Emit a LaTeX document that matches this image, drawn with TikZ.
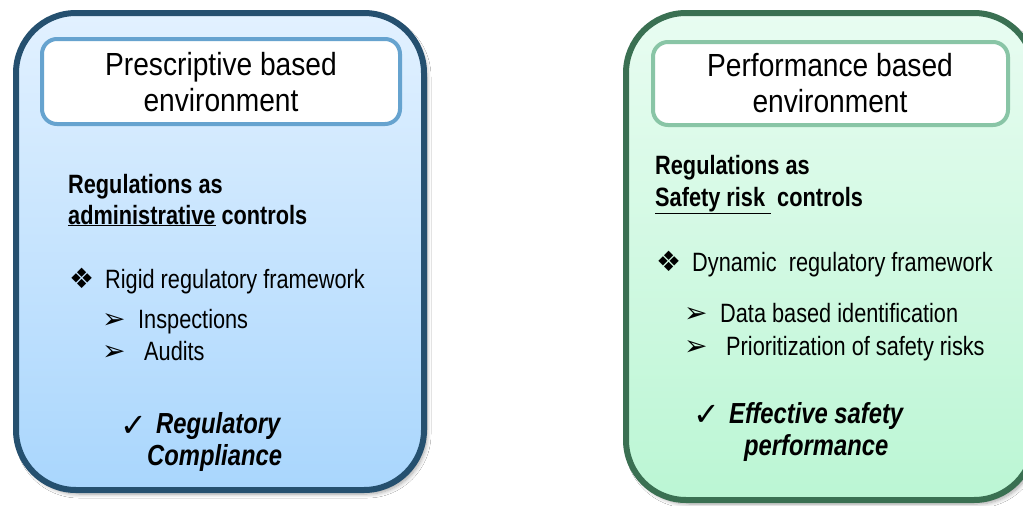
\documentclass[tikz,border=0pt]{standalone}
\usepackage{fontspec}
\setmainfont{Liberation Sans}
\newfontfamily\bodyfont[FakeStretch=0.82]{Liberation Sans}
\newfontfamily\headfont[FakeStretch=0.88]{Liberation Sans}
\newfontfamily\symfont{DejaVu Sans}
\usetikzlibrary{shadows.blur}
\definecolor{lborder}{HTML}{25506F}
\definecolor{ltop}{HTML}{E2F1FF}
\definecolor{lbot}{HTML}{A9D6FD}
\definecolor{linner}{HTML}{66A3CF}
\definecolor{rborder}{HTML}{3A7052}
\definecolor{rtop}{HTML}{E8FCF1}
\definecolor{rbot}{HTML}{BBF6D4}
\definecolor{rinner}{HTML}{89C5A6}
\tikzset{
  panel/.style={rounded corners=60, line width=6, inner sep=0,
    blur shadow={shadow xshift=3pt, shadow yshift=-4pt, shadow blur steps=8, shadow blur radius=4pt, shadow opacity=35}},
  titlebox/.style={rounded corners=15, line width=4, fill=white, inner sep=0},
  headtxt/.style={inner sep=0, anchor=base, font=\headfont\fontsize{32}{36}\selectfont},
  bodytxt/.style={inner sep=0, anchor=base west, font=\bodyfont\fontsize{26.5}{31}\selectfont},
  boldtxt/.style={bodytxt, font=\bodyfont\bfseries\fontsize{26.5}{31}\selectfont},
  bigtxt/.style={inner sep=0, anchor=base west, font=\bodyfont\bfseries\itshape\fontsize{29}{34}\selectfont},
  diam/.style={inner sep=0, anchor=base west, font=\symfont\fontsize{28}{30}\selectfont},
  arr/.style={inner sep=0, anchor=base west, font=\symfont\fontsize{28}{30}\selectfont},
  chk/.style={inner sep=0, anchor=base west, font=\symfont\fontsize{32}{34}\selectfont},
}
\begin{document}
\begin{tikzpicture}[x=1pt, y=-1pt]
\clip (0,0) rectangle (1023,506);
\fill[white] (0,0) rectangle (1023,506);
% left panel
\node[panel, draw=lborder, top color=ltop, bottom color=lbot, minimum width=408, minimum height=477] (lpanel) at (220,251.5) {};
\node[titlebox, draw=linner, minimum width=358, minimum height=85] (lhead) at (221,81.5) {};
\node[headtxt] (lh1) at (221,75) {Prescriptive based};
\node[headtxt] (lh2) at (221,111) {environment};
\node[boldtxt] (lr1) at (68,193) {Regulations as};
\node[boldtxt] (lr2) at (68,224) {\underline{administrative} controls};
\node[diam] (lb1) at (69,288) {❖};
\node[bodytxt] (lt1) at (105,288) {Rigid regulatory framework};
\node[arr] (la1) at (102,328) {➢};
\node[bodytxt] (lt2) at (138,328) {Inspections};
\node[arr] (la2) at (102,360) {➢};
\node[bodytxt] (lt3) at (144,360) {Audits};
\node[chk] (lc1) at (120,436) {✓};
\node[bigtxt] (lk1) at (156,433) {Regulatory};
\node[bigtxt] (lk2) at (147,465) {Compliance};
% right panel
\node[panel, draw=rborder, top color=rtop, bottom color=rbot, minimum width=408, minimum height=487] (rpanel) at (830,256.5) {};
\node[titlebox, draw=rinner, minimum width=355, minimum height=83] (rhead) at (830.5,83.5) {};
\node[headtxt] (rh1) at (830,76) {Performance based};
\node[headtxt] (rh2) at (830,112) {environment};
\node[boldtxt] (rr1) at (655,174) {Regulations as};
\node[boldtxt] (rr2) at (655,206) {\underline{Safety risk\ }\ controls};
\node[diam] (rb1) at (656,271) {❖};
\node[bodytxt] (rt1) at (692,271) {Dynamic\ \ regulatory framework};
\node[arr] (ra1) at (684,322) {➢};
\node[bodytxt] (rt2) at (720,322) {Data based identification};
\node[arr] (ra2) at (684,355) {➢};
\node[bodytxt] (rt3) at (726,355) {Prioritization of safety risks};
\node[chk] (rc1) at (693,425) {✓};
\node[bigtxt] (rk1) at (729,423) {Effective safety};
\node[bigtxt] (rk2) at (744,455) {performance};
\end{tikzpicture}
\end{document}
